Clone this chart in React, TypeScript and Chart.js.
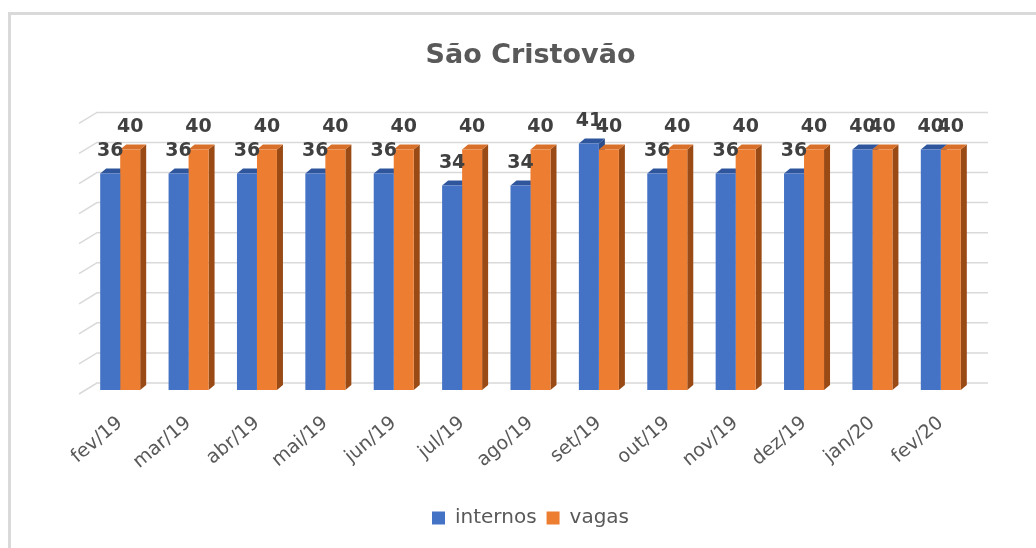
import React, { useEffect, useRef } from 'react';
import { Chart, registerables } from 'chart.js';

Chart.register(...registerables);

const categories = ['fev/19', 'mar/19', 'abr/19', 'mai/19', 'jun/19', 'jul/19', 'ago/19', 'set/19', 'out/19', 'nov/19', 'dez/19', 'jan/20', 'fev/20'];
const internos = [36, 36, 36, 36, 36, 34, 34, 41, 36, 36, 36, 40, 40];
const vagas = [40, 40, 40, 40, 40, 40, 40, 40, 40, 40, 40, 40, 40];
const gridValues = [0, 5, 10, 15, 20, 25, 30, 35, 40, 45];
const seriesNames = ['internos', 'vagas'];
const titleText = 'São Cristovão';

const FONT = "'DejaVu Sans', 'Open Sans', sans-serif";
const DX = 6;
const DY = 5;
const faceColors = [
  { front: '#4472c4', top: '#2f569c', side: '#2c4f8c' },
  { front: '#ed7d31', top: '#d8702a', side: '#9a4a15' },
];

const threeD = {
  id: 'threeD',
  beforeDraw(chart: any) {
    const ctx = chart.ctx;
    ctx.save();
    ctx.fillStyle = '#ffffff';
    ctx.fillRect(0, 0, chart.width, chart.height);
    ctx.strokeStyle = '#d9d9d9';
    ctx.lineWidth = 3;
    ctx.beginPath();
    ctx.moveTo(9.5, chart.height);
    ctx.lineTo(9.5, 13.5);
    ctx.lineTo(chart.width, 13.5);
    ctx.stroke();
    ctx.restore();
  },
  beforeDatasetsDraw(chart: any) {
    const { ctx, chartArea, scales } = chart;
    const { left, right } = chartArea;
    const y = scales.y;
    ctx.save();
    ctx.strokeStyle = '#d9d9d9';
    ctx.lineWidth = 1.5;
    for (const v of gridValues) {
      const py = y.getPixelForValue(v);
      ctx.beginPath();
      ctx.moveTo(left - 7, py + 4);
      ctx.lineTo(left + 11, py - 7);
      ctx.lineTo(right + 13, py - 7);
      ctx.stroke();
    }
    chart.data.datasets.forEach((ds: any, di: number) => {
      const meta = chart.getDatasetMeta(di);
      const c = faceColors[di];
      meta.data.forEach((bar: any) => {
        const { x, y: top, base, width } = bar.getProps(['x', 'y', 'base', 'width'], true);
        const xl = x - width / 2;
        const xr = x + width / 2;
        ctx.fillStyle = c.side;
        ctx.beginPath();
        ctx.moveTo(xr, top);
        ctx.lineTo(xr + DX, top - DY);
        ctx.lineTo(xr + DX, base - DY);
        ctx.lineTo(xr, base);
        ctx.closePath();
        ctx.fill();
        ctx.fillStyle = c.top;
        ctx.beginPath();
        ctx.moveTo(xl, top);
        ctx.lineTo(xl + DX, top - DY);
        ctx.lineTo(xr + DX, top - DY);
        ctx.lineTo(xr, top);
        ctx.closePath();
        ctx.fill();
      });
    });
    ctx.restore();
  },
  afterDatasetsDraw(chart: any) {
    const { ctx } = chart;
    ctx.save();
    ctx.fillStyle = '#404040';
    ctx.font = `bold 19px ${FONT}`;
    ctx.textAlign = 'center';
    ctx.textBaseline = 'middle';
    chart.data.datasets.forEach((ds: any, di: number) => {
      const meta = chart.getDatasetMeta(di);
      meta.data.forEach((bar: any, i: number) => {
        const { x, y } = bar.getProps(['x', 'y'], true);
        ctx.fillText(String(ds.data[i]), x, y - 22);
      });
    });
    ctx.restore();
  },
};

export default function App() {
  const ref = useRef<HTMLCanvasElement>(null);
  useEffect(() => {
    if (!ref.current) return;
    const chart = new Chart(ref.current, {
      type: 'bar',
      data: {
        labels: categories,
        datasets: [
          { label: seriesNames[0], data: internos, backgroundColor: faceColors[0].front, borderWidth: 0, barPercentage: 1, categoryPercentage: 0.585 },
          { label: seriesNames[1], data: vagas, backgroundColor: faceColors[1].front, borderWidth: 0, barPercentage: 1, categoryPercentage: 0.585 },
        ],
      },
      options: {
        responsive: false,
        animation: false,
        devicePixelRatio: 1,
        layout: { padding: { left: 86, right: 61, top: 0, bottom: 10 } },
        plugins: {
          title: {
            display: true,
            text: titleText,
            color: '#595959',
            font: { family: FONT, size: 27, weight: 'bold', lineHeight: 1.2 },
            padding: { top: 40, bottom: 47 },
          },
          legend: {
            position: 'bottom',
            labels: {
              boxWidth: 13,
              boxHeight: 13,
              color: '#595959',
              font: { family: FONT, size: 20 },
              padding: 10,
            },
          },
          tooltip: { enabled: false },
        },
        scales: {
          x: {
            grid: { display: false },
            border: { display: false },
            ticks: {
              color: '#595959',
              font: { family: FONT, size: 19 },
              minRotation: 40,
              maxRotation: 40,
              autoSkip: false,
              padding: 14,
            },
            afterFit: (s: any) => {
              s.height = 108;
              s.paddingLeft = 0;
              s.paddingRight = 0;
            },
          },
          y: { display: false, min: 0, max: 45 },
        },
      },
      plugins: [threeD],
    } as any);
    return () => chart.destroy();
  }, []);
  return (
    <div style={{ position: 'absolute', left: 0, top: 0, width: 1036, height: 548 }}>
      <canvas ref={ref} width={1036} height={548} />
    </div>
  );
}
